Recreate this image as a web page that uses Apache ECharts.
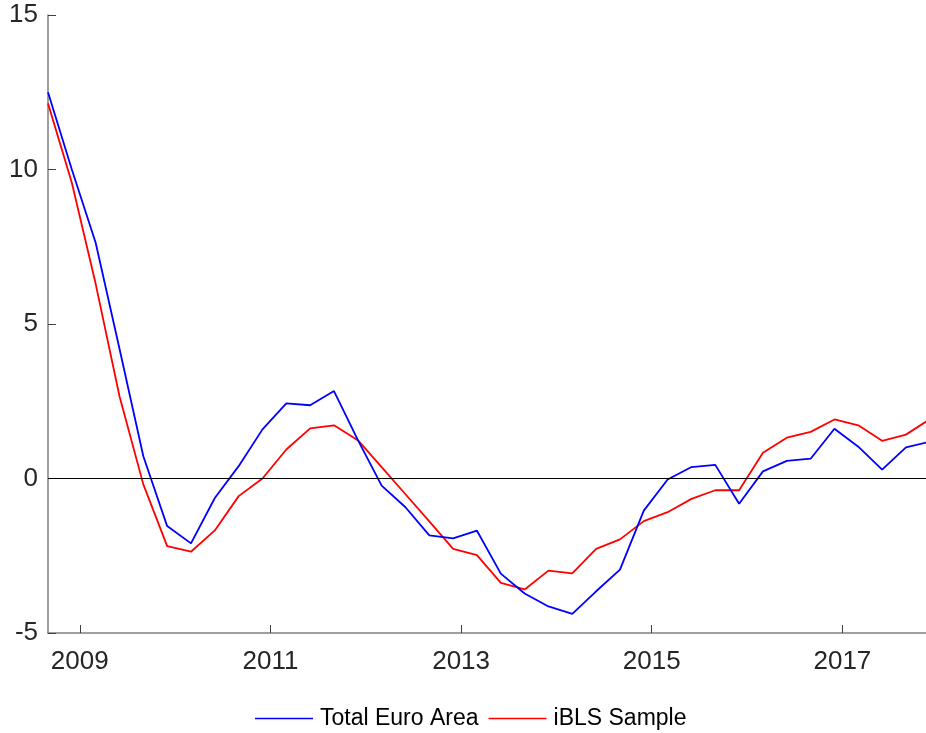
<!DOCTYPE html>
<html>
<head>
<meta charset="utf-8">
<script src="https://cdn.jsdelivr.net/npm/echarts@6/dist/echarts.min.js"></script>
<style>
html,body{margin:0;padding:0;background:#fff;}
#chart{width:926px;height:733px;}
</style>
</head>
<body>
<div id="chart"></div>
<script>
// Quarterly observations, first one dated 2008 + 8/12
const startYear = 2008 + 8 / 12;
const quarterCount = 38;
const totalEuroArea = [12.5, 10.0, 7.63, 4.2, 0.72, -1.54, -2.10, -0.63, 0.40, 1.59,
  2.43, 2.37, 2.83, 1.25, -0.23, -0.93, -1.84, -1.94, -1.69, -3.08,
  -3.72, -4.14, -4.38, -3.65, -2.95, -1.04, -0.03, 0.37, 0.44, -0.82,
  0.23, 0.57, 0.64, 1.61, 1.03, 0.29, 1.01, 1.19];
const iblsSample = [12.14, 9.57, 6.3, 2.66, -0.19, -2.19, -2.37, -1.68, -0.57, 0.0,
  0.94, 1.62, 1.72, 1.24, 0.37, -0.51, -1.39, -2.28, -2.48, -3.38,
  -3.59, -2.98, -3.07, -2.28, -1.97, -1.38, -1.09, -0.66, -0.38, -0.38,
  0.83, 1.32, 1.51, 1.91, 1.72, 1.22, 1.42, 1.92];
const xTickLabels = [2009, 2011, 2013, 2015, 2017];
const yTickLabels = [-5, 0, 5, 10, 15];
const seriesNames = ['Total Euro Area', 'iBLS Sample'];
const seriesColors = ['#0000ff', '#ff0000'];

const dates = [];
for (let i = 0; i < quarterCount; i++) dates.push(startYear + 0.25 * i);
const pairs = arr => arr.map((v, i) => [dates[i], v]);

const chart = echarts.init(document.getElementById('chart'), null, {renderer: 'canvas'});
const fontFam = '"Liberation Sans", Arial, sans-serif';
chart.setOption({
  animation: false,
  backgroundColor: '#ffffff',
  color: seriesColors,
  grid: {left: 48, top: 15, right: 0, bottom: 100, containLabel: false},
  legend: {
    data: seriesNames.map((n, i) => ({
      name: n,
      icon: 'rect',
      itemStyle: {color: seriesColors[i], borderWidth: 0}
    })),
    left: 250, top: 702,
    itemWidth: 58, itemHeight: 1.6, itemGap: 10,
    textStyle: {fontFamily: fontFam, fontSize: 23, color: '#000', padding: [0, 0, 0, 2]}
  },
  xAxis: {
    type: 'value',
    min: startYear,
    max: 2017.877,
    splitLine: {show: false},
    axisLine: {onZero: false, lineStyle: {color: '#808080', width: 1.5}},
    axisTick: {inside: true, length: 8, customValues: xTickLabels, lineStyle: {color: '#404040'}},
    axisLabel: {customValues: xTickLabels, margin: 16, fontFamily: fontFam, fontSize: 26, color: '#262626',
      formatter: v => String(Math.round(v))}
  },
  yAxis: {
    type: 'value',
    min: -5, max: 15,
    splitLine: {show: false},
    axisLine: {show: true, lineStyle: {color: '#808080', width: 1.5}},
    axisTick: {show: true, inside: true, length: 8, customValues: yTickLabels, lineStyle: {color: '#404040'}},
    axisLabel: {customValues: yTickLabels, margin: 10, fontFamily: fontFam, fontSize: 26, color: '#262626'}
  },
  series: [
    {
      name: seriesNames[0], type: 'line', data: pairs(totalEuroArea),
      showSymbol: false, symbol: 'none', clip: true,
      lineStyle: {color: seriesColors[0], width: 1.8}, itemStyle: {color: seriesColors[0]},
      markLine: {
        silent: true, symbol: 'none', label: {show: false},
        lineStyle: {color: '#000', width: 1, type: 'solid'},
        data: [{yAxis: 0}]
      },
      z: 3
    },
    {
      name: seriesNames[1], type: 'line', data: pairs(iblsSample),
      showSymbol: false, symbol: 'none', clip: true,
      lineStyle: {color: seriesColors[1], width: 1.8}, itemStyle: {color: seriesColors[1]},
      z: 2
    }
  ]
});
</script>
</body>
</html>
